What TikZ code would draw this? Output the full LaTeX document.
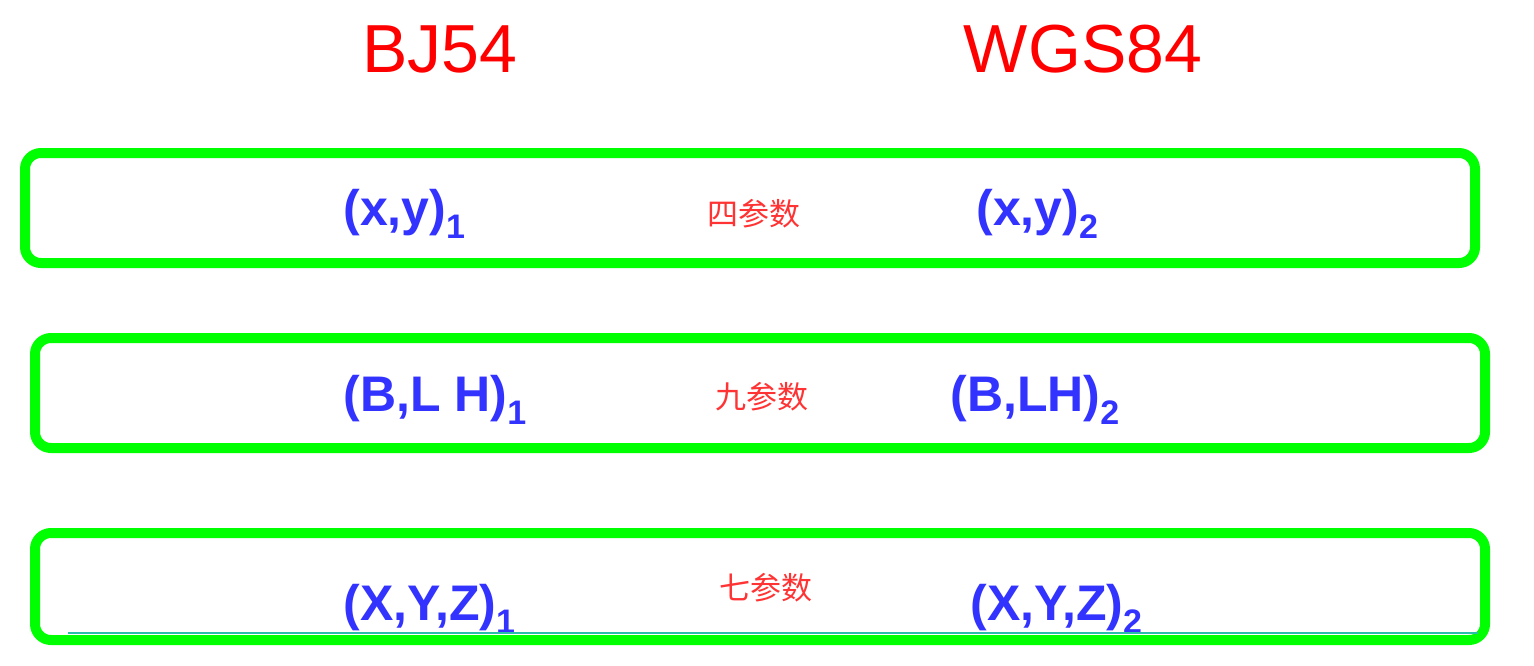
\documentclass[tikz,border=0pt]{standalone}
\usepackage{fontspec}
\setmainfont{Liberation Sans}
\newfontfamily\cjk{Noto Sans CJK SC}
\definecolor{boxgreen}{RGB}{0,255,0}
\definecolor{txtblue}{RGB}{51,51,255}
\definecolor{ttlred}{RGB}{255,0,0}
\definecolor{lblred}{RGB}{255,51,51}
\definecolor{tealline}{RGB}{40,190,170}
\newcommand{\sbs}[1]{\raisebox{-6.5pt}{\fontsize{17}{17}\selectfont #1}}
\begin{document}
\begin{tikzpicture}[x=0.5pt,y=-0.5pt,
  gbox/.style={draw=boxgreen,line width=5pt,rounded corners=8pt},
  ttl/.style={text=ttlred,font=\fontsize{34}{34}\selectfont,inner sep=0pt},
  crd/.style={text=txtblue,font=\fontsize{25}{25}\selectfont\bfseries,inner sep=0pt,anchor=base west},
  lbl/.style={text=lblred,font=\cjk\fontsize{15.5}{15.5}\selectfont,inner sep=0pt}]
\useasboundingbox (0,0) rectangle (1534,665);
\fill[white] (0,0) rectangle (1534,665);
% titles
\node[ttl] (t1) at (440,49) {BJ54};
\node[ttl] (t2) at (1083,49) {WGS84};
% boxes
\draw[gbox] (25,153) rectangle (1475,263);
\draw[gbox] (35,338) rectangle (1485,448);
\draw[gbox] (35,533) rectangle (1485,640);
% row 1
\node[crd] (a1) at (343,225) {(x,y)\sbs{1}};
\node[crd] (a2) at (976,225) {(x,y)\sbs{2}};
\node[lbl] (l1) at (754,214) {四参数};
% row 2
\node[crd] (b1) at (343,411) {(B,L H)\sbs{1}};
\node[crd] (b2) at (950,411) {(B,LH)\sbs{2}};
\node[lbl] (l2) at (762,397) {九参数};
% row 3
\node[crd] (c1) at (343,620) {(X,Y,Z)\sbs{1}};
\node[crd] (c2) at (970,620) {(X,Y,Z)\sbs{2}};
\node[lbl] (l3) at (766,588) {七参数};
% thin line
\coordinate (s1) at (68,632.5);
\coordinate (s2) at (1478,632.5);
\draw[tealline,line width=1pt] (s1) -- (s2);
\end{tikzpicture}
\end{document}
